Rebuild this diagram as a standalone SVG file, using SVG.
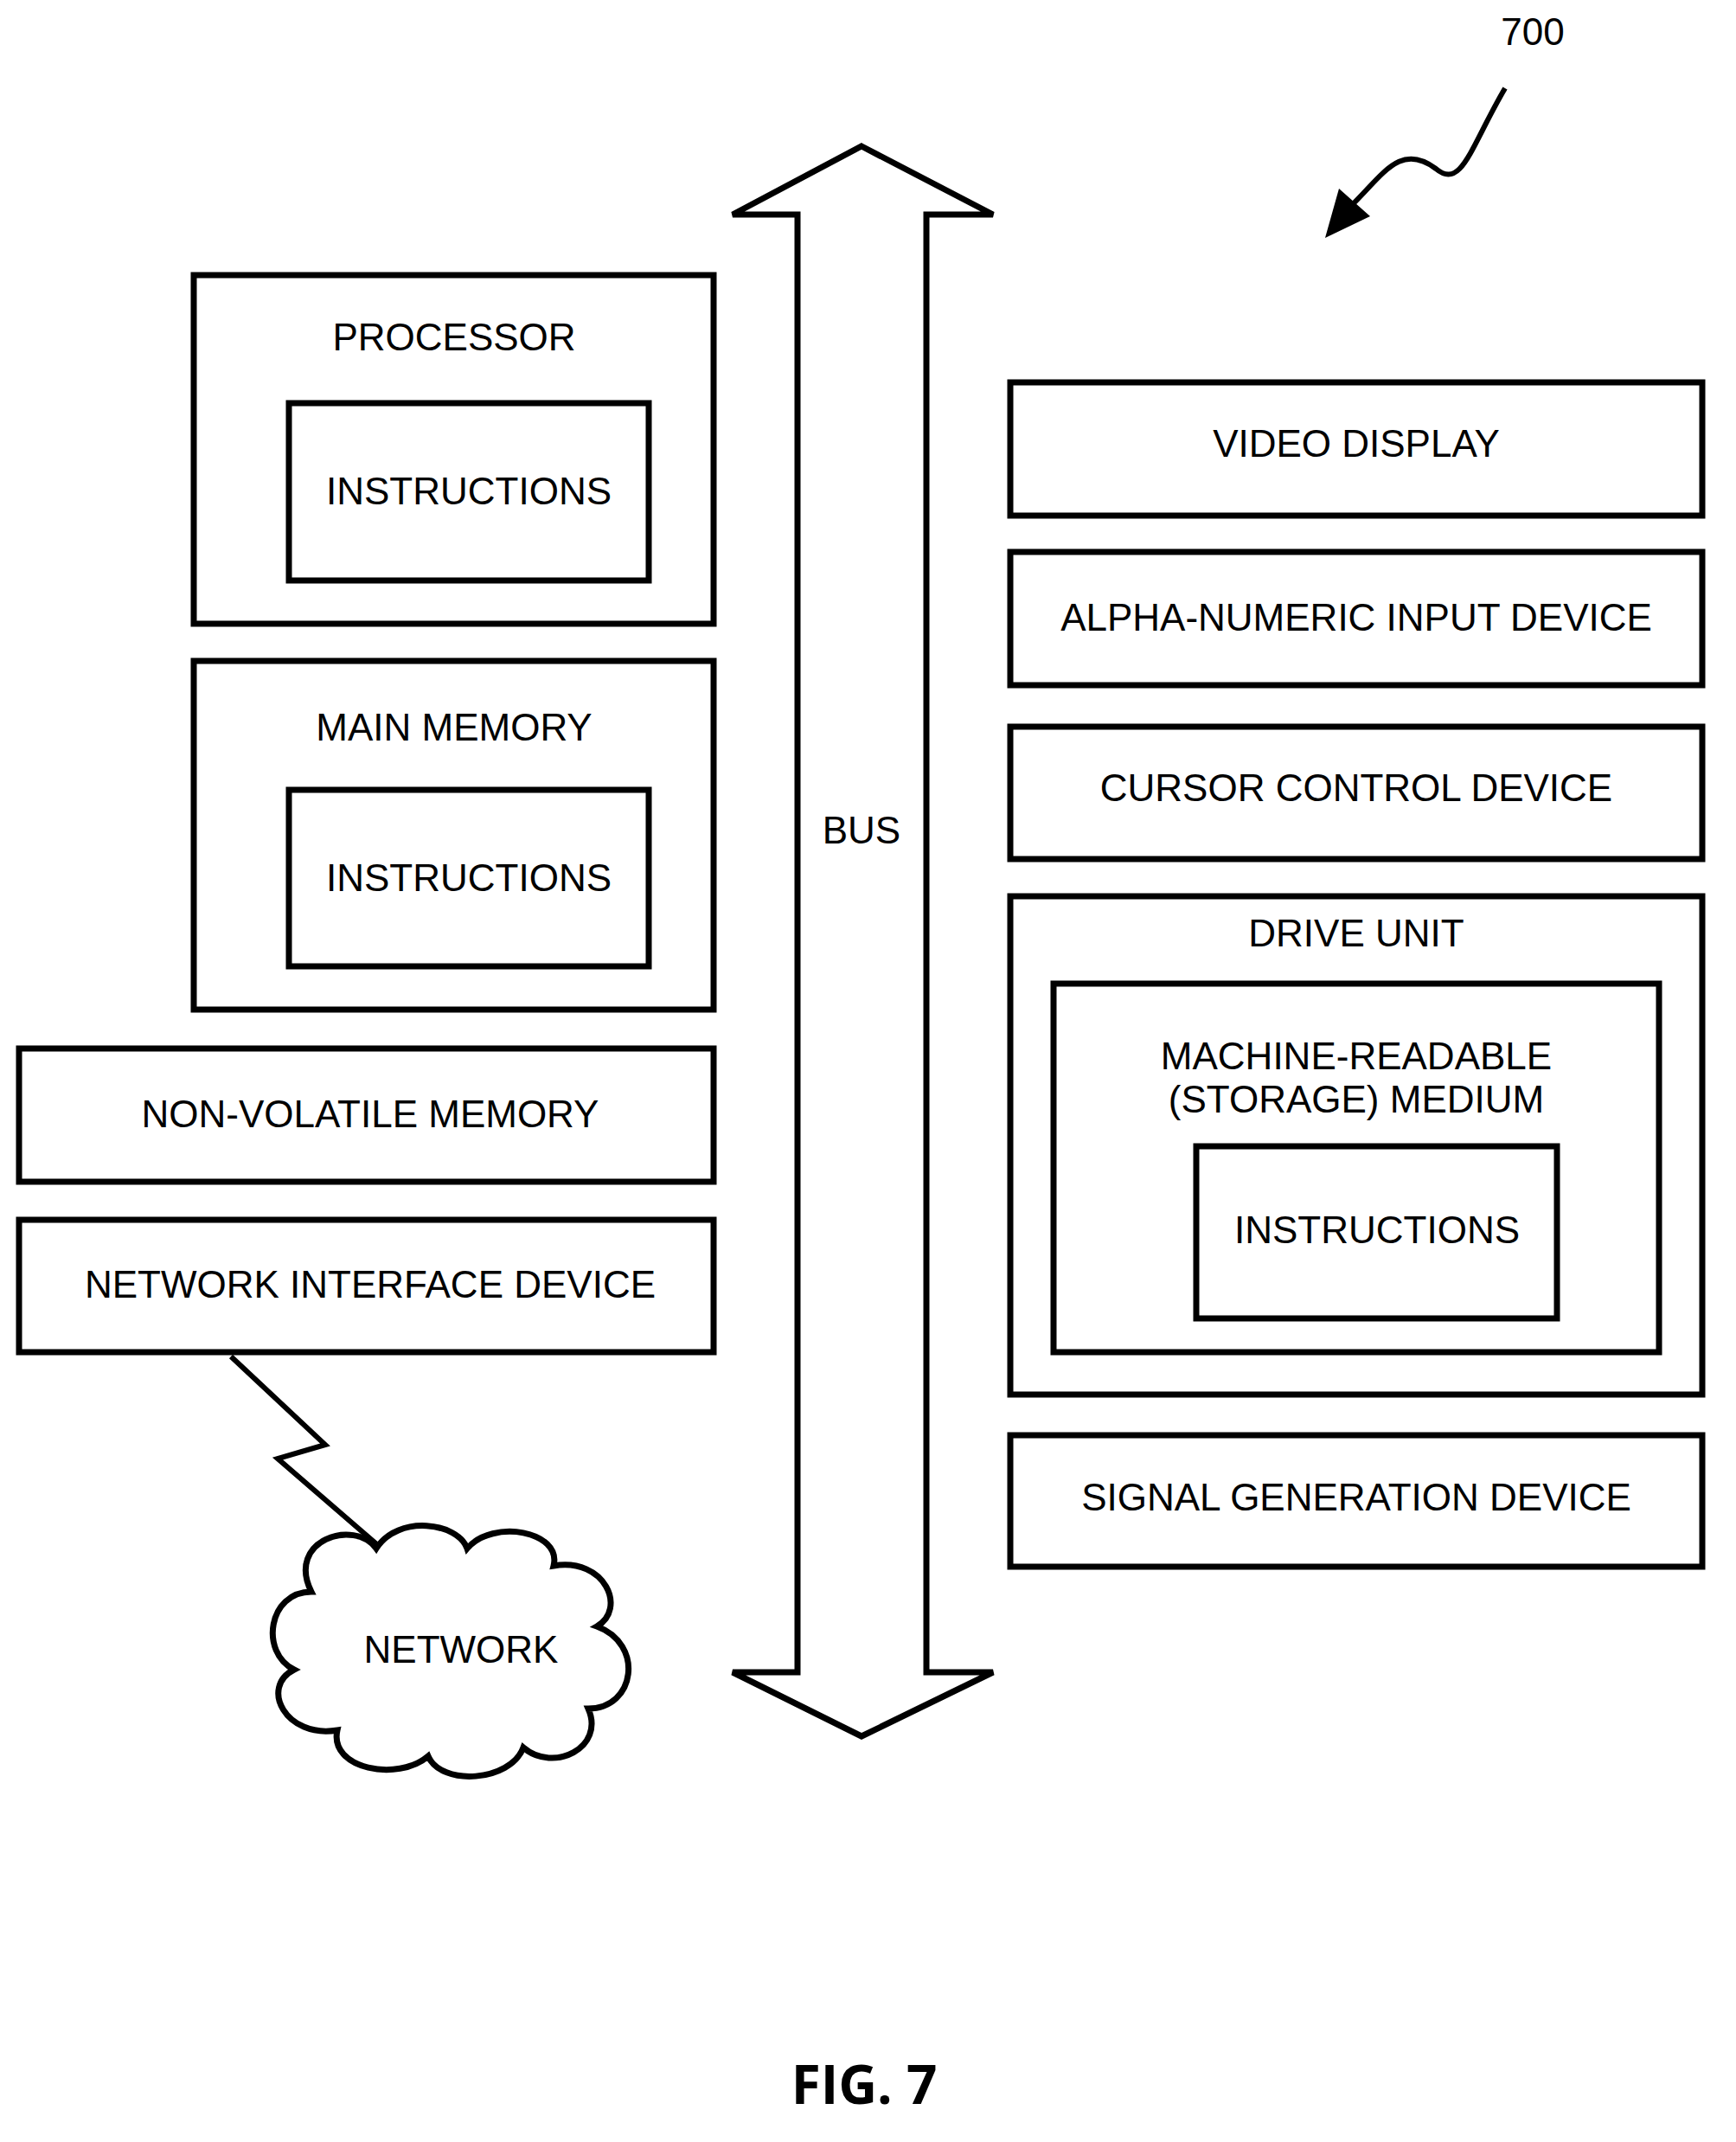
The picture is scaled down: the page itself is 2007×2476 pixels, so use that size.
<svg xmlns="http://www.w3.org/2000/svg" width="2007" height="2476" viewBox="0 0 2007 2476">
<style>
.b{fill:#fff;stroke:#000;stroke-width:7}
.l{fill:none;stroke:#000;stroke-width:6}
text{font-family:"Liberation Sans",Arial,sans-serif;font-size:44px;text-anchor:middle;fill:#000}
</style>
<rect width="2007" height="2476" fill="#fff"/>
<g id="processor"><rect class="b" x="224" y="318" width="601" height="403"/><text x="525" y="405">PROCESSOR</text>
<rect class="b" x="334" y="466" width="416" height="205"/><text x="542" y="583">INSTRUCTIONS</text></g>
<g id="main-memory"><rect class="b" x="224" y="764" width="601" height="403"/><text x="525" y="856">MAIN MEMORY</text>
<rect class="b" x="334" y="913" width="416" height="204"/><text x="542" y="1030">INSTRUCTIONS</text></g>
<g id="nonvolatile"><rect class="b" x="22" y="1212" width="803" height="154"/><text x="428" y="1303">NON-VOLATILE MEMORY</text></g>
<g id="nic"><rect class="b" x="22" y="1410" width="803" height="153"/><text x="428" y="1500">NETWORK INTERFACE DEVICE</text></g>
<g id="bus"><path class="b" d="M996,169 L1148,248 L1071,248 L1071,1933 L1148,1933 L996,2007 L847,1933 L922,1933 L922,248 L847,248 Z"/><text x="996" y="975">BUS</text></g>
<g id="video"><rect class="b" x="1168" y="442" width="800" height="154"/><text x="1568" y="528">VIDEO DISPLAY</text></g>
<g id="alpha"><rect class="b" x="1168" y="638" width="800" height="154"/><text x="1568" y="729">ALPHA-NUMERIC INPUT DEVICE</text></g>
<g id="cursor"><rect class="b" x="1168" y="840" width="800" height="153"/><text x="1568" y="926">CURSOR CONTROL DEVICE</text></g>
<g id="drive"><rect class="b" x="1168" y="1036" width="800" height="576"/><text x="1568" y="1094">DRIVE UNIT</text>
<rect class="b" x="1218" y="1137" width="700" height="426"/><text x="1568" y="1236">MACHINE-READABLE</text><text x="1568" y="1286">(STORAGE) MEDIUM</text>
<rect class="b" x="1383" y="1325" width="417" height="199"/><text x="1592" y="1437">INSTRUCTIONS</text></g>
<g id="signal"><rect class="b" x="1168" y="1659" width="800" height="152"/><text x="1568" y="1746">SIGNAL GENERATION DEVICE</text></g>
<g id="network"><path class="b" d="M360,1840 C330,1780 410,1755 435,1790 C460,1750 530,1760 540,1790 C570,1755 650,1770 640,1810 C700,1800 725,1860 690,1880 C745,1900 735,1975 680,1975 C700,2020 640,2050 605,2020 C590,2060 510,2065 495,2030 C460,2060 380,2045 390,2000 C330,2010 300,1950 340,1930 C300,1910 310,1840 360,1840 Z"/><text x="533" y="1922">NETWORK</text></g>
<g id="connectors">
<path class="l" d="M267,1568 L376,1670 L321,1686 L439,1788"/>
<path class="l" d="M1740,102 C1700,170 1690,220 1660,195 C1620,165 1600,200 1565,235"/>
<polygon points="1532,275 1548,218 1584,250" fill="#000"/>
</g>
<text x="1772" y="52">700</text>
<text x="999" y="2432" style="font-size:62px;font-weight:bold;font-family:'Open Sans','Liberation Sans',sans-serif">FIG. 7</text>
</svg>
